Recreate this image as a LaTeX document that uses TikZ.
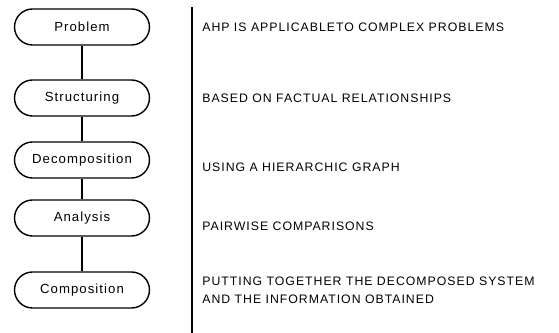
\documentclass[tikz,border=0pt]{standalone}
\usepackage{fontspec}
\setmainfont{Liberation Sans}
\newfontfamily\spacedfont[LetterSpace=8]{Liberation Sans}
\usetikzlibrary{positioning}

\tikzset{
	stage/.style={draw, thick, rounded corners=0.36cm, minimum width=2.7cm, minimum height=0.72cm, font=\spacedfont\fontsize{7.5}{9}\selectfont},
	note/.style={anchor=west, align=left, inner sep=0pt, font=\spacedfont\fontsize{7}{10}\selectfont}
}

\begin{document}
\begin{tikzpicture}[x=0.02cm, y=-0.02cm]
	\useasboundingbox (0,0) rectangle (559,333);
	% stages of the method
	\node[stage] (problem) at (82,27) {Problem};
	\node[stage] (struct) at (82,98) {Structuring};
	\node[stage] (decomp) at (82,160) {Decomposition};
	\node[stage] (analysis) at (82,218) {Analysis};
	\node[stage] (compos) at (82,290) {Composition};
	\draw[thick] (problem) -- (struct);
	\draw[thick] (struct) -- (decomp);
	\draw[thick] (decomp) -- (analysis);
	\draw[thick] (analysis) -- (compos);
	% separator
	\coordinate (septop) at (192,7);
	\coordinate (sepbot) at (192,333);
	\draw[thick] (septop) -- (sepbot);
	% remarks
	\node[note] (n1) at (202,27) {AHP IS APPLICABLETO COMPLEX PROBLEMS};
	\node[note] (n2) at (202,98) {BASED ON FACTUAL RELATIONSHIPS};
	\node[note] (n3) at (202,167) {USING A HIERARCHIC GRAPH};
	\node[note] (n4) at (202,226) {PAIRWISE COMPARISONS};
	\node[note] (n5) at (202,290) {PUTTING TOGETHER THE DECOMPOSED SYSTEM\\AND THE INFORMATION OBTAINED};
\end{tikzpicture}
\end{document}
